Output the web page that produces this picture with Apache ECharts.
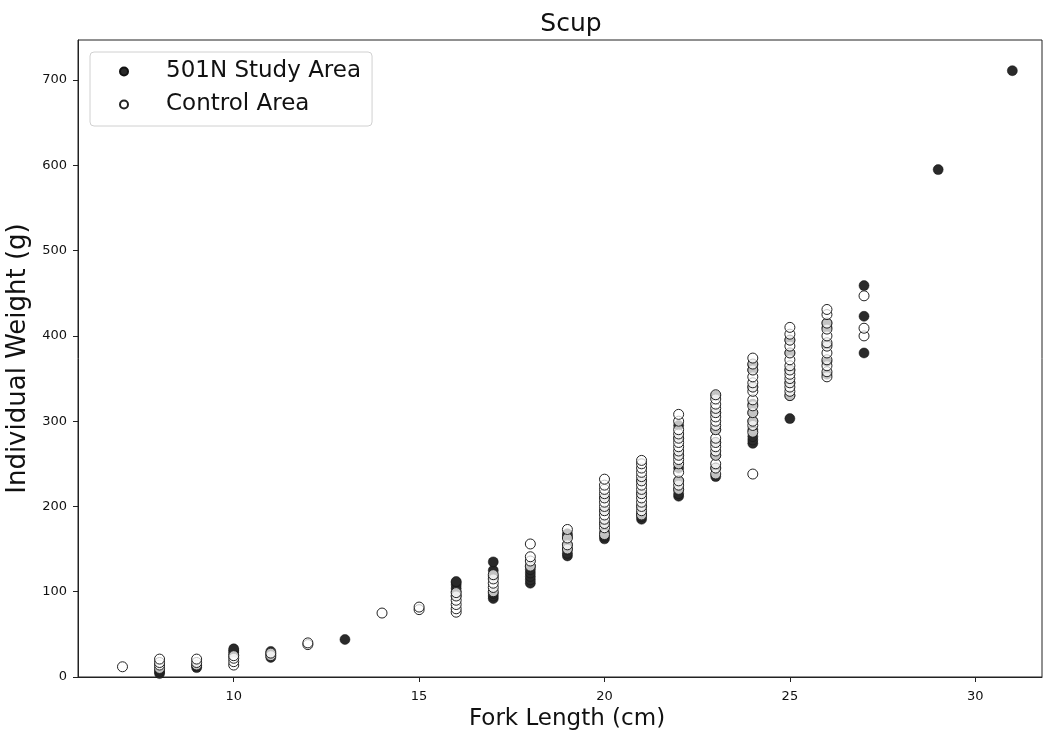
<!DOCTYPE html>
<html>
<head>
<meta charset="utf-8">
<script src="https://cdn.jsdelivr.net/npm/echarts@6/dist/echarts.min.js"></script>
<style>
  html, body { margin: 0; padding: 0; background: #fff; }
  #chart { width: 1043px; height: 732px; }
</style>
</head>
<body>
<div id="chart"></div>
<script>
// Scup: fork length vs individual weight

const xTicks = [10, 15, 20, 25, 30];
const yTicks = [0, 100, 200, 300, 400, 500, 600, 700];

// 501N Study Area [length, weight]
const studyData = [
  [8, 4], [8, 6], [8, 8],
  [9, 11], [9, 13],
  [10, 26], [10, 29], [10, 31], [10, 33],
  [11, 23], [11, 27], [11, 30],
  [13, 44],
  [16, 95], [16, 100], [16, 104], [16, 108], [16, 111], [16, 112],
  [17, 92], [17, 95], [17, 98], [17, 118], [17, 125], [17, 135],
  [18, 110], [18, 114], [18, 118], [18, 122], [18, 126], [18, 130],
  [19, 142], [19, 145], [19, 150], [19, 155], [19, 165], [19, 168],
  [20, 162], [20, 165], [20, 170], [20, 180], [20, 195], [20, 210],
  [21, 185], [21, 188], [21, 192], [21, 200], [21, 215], [21, 230],
  [22, 212], [22, 215], [22, 220], [22, 230], [22, 245], [22, 260], [22, 280], [22, 295],
  [23, 235], [23, 245], [23, 260], [23, 275], [23, 290], [23, 310], [23, 330],
  [24, 274], [24, 278], [24, 282], [24, 290], [24, 300], [24, 310], [24, 320], [24, 340], [24, 360], [24, 366],
  [25, 303], [25, 330], [25, 345], [25, 360], [25, 380], [25, 395],
  [26, 355], [26, 370], [26, 390], [26, 410], [26, 415],
  [27, 380], [27, 423], [27, 459],
  [29, 595],
  [31, 711]
];

// Control Area [length, weight]
const controlData = [
  [7, 12],
  [8, 10], [8, 14], [8, 17], [8, 21],
  [9, 14], [9, 17], [9, 21],
  [10, 14], [10, 18], [10, 22], [10, 25],
  [11, 25], [11, 28],
  [12, 38], [12, 40],
  [14, 75],
  [15, 79], [15, 82],
  [16, 76], [16, 80], [16, 85], [16, 90], [16, 95], [16, 99],
  [17, 100], [17, 105], [17, 110], [17, 115], [17, 120],
  [18, 130], [18, 136], [18, 141], [18, 156],
  [19, 150], [19, 155], [19, 163], [19, 173],
  [20, 167], [20, 175], [20, 180], [20, 185], [20, 190], [20, 195], [20, 200], [20, 205],
  [20, 210], [20, 215], [20, 220], [20, 225], [20, 232],
  [21, 190], [21, 195], [21, 200], [21, 205], [21, 210], [21, 215], [21, 220], [21, 225],
  [21, 230], [21, 235], [21, 240], [21, 245], [21, 250], [21, 254],
  [22, 220], [22, 225], [22, 230], [22, 240], [22, 250], [22, 255], [22, 260], [22, 265],
  [22, 270], [22, 275], [22, 280], [22, 285], [22, 290], [22, 300], [22, 308],
  [23, 238], [23, 245], [23, 250], [23, 260], [23, 265], [23, 270], [23, 275], [23, 280],
  [23, 290], [23, 295], [23, 300], [23, 305], [23, 310], [23, 315], [23, 320], [23, 326], [23, 331],
  [24, 238], [24, 287], [24, 295], [24, 300], [24, 310], [24, 318], [24, 325], [24, 335],
  [24, 340], [24, 345], [24, 352], [24, 360], [24, 367], [24, 374],
  [25, 330], [25, 335], [25, 340], [25, 345], [25, 350], [25, 355], [25, 360], [25, 365],
  [25, 372], [25, 380], [25, 388], [25, 395], [25, 402], [25, 410],
  [26, 352], [26, 358], [26, 365], [26, 372], [26, 380], [26, 388], [26, 392], [26, 400],
  [26, 408], [26, 415], [26, 425], [26, 431],
  [27, 400], [27, 409], [27, 447]
];

const myChart = echarts.init(document.getElementById('chart'));

const font = 'DejaVu Sans';

const option = {
  animation: false,
  title: {
    text: 'Scup',
    left: 566,
    top: 7,
    textAlign: 'center',
    textStyle: { fontFamily: font, fontSize: 25, fontWeight: 'normal', color: '#111' }
  },
  legend: {
    orient: 'vertical',
    left: 90,
    top: 52,
    padding: [8, 11, 10, 29],
    itemGap: 10,
    itemWidth: 8,
    itemHeight: 8,
    borderColor: '#d0d0d0',
    borderWidth: 1,
    borderRadius: 4,
    textStyle: { fontFamily: font, fontSize: 23, color: '#111', padding: [0, 0, 0, 33] },
    data: ['501N Study Area', 'Control Area']
  },
  grid: {
    left: 78,
    right: 1,
    top: 40,
    bottom: 55,
    containLabel: false,
    outerBoundsMode: 'none',
    show: true,
    borderColor: '#222',
    borderWidth: 1
  },
  xAxis: {
    type: 'value',
    min: 5.8,
    max: 31.8,
    name: 'Fork Length (cm)',
    nameLocation: 'middle',
    nameGap: 29,
    nameTextStyle: { fontFamily: font, fontSize: 23, color: '#111', padding: [0, 0, 0, 14] },
    axisLine: { show: true, lineStyle: { color: '#222' } },
    axisTick: { show: true, customValues: xTicks, length: 5, lineStyle: { color: '#222' } },
    axisLabel: { customValues: xTicks, fontFamily: font, fontSize: 13, color: '#111', margin: 13 },
    splitLine: { show: false }
  },
  yAxis: {
    type: 'value',
    min: 0,
    max: 747,
    name: 'Individual Weight (g)',
    nameLocation: 'middle',
    nameGap: 40,
    nameTextStyle: { fontFamily: font, fontSize: 26, color: '#111' },
    axisLine: { show: true, lineStyle: { color: '#222' } },
    axisTick: { show: true, customValues: yTicks, length: 5, lineStyle: { color: '#222' } },
    axisLabel: { customValues: yTicks, fontFamily: font, fontSize: 13, color: '#111', margin: 11 },
    splitLine: { show: false }
  },
  series: [
    {
      name: '501N Study Area',
      type: 'scatter',
      symbol: 'circle',
      symbolSize: 10,
      itemStyle: { color: '#2a2a2a', borderColor: '#111', borderWidth: 0.5, opacity: 1 },
      data: studyData
    },
    {
      name: 'Control Area',
      type: 'scatter',
      symbol: 'circle',
      symbolSize: 10,
      itemStyle: { color: 'rgba(255,255,255,0.72)', borderColor: '#222', borderWidth: 1, opacity: 1 },
      data: controlData
    }
  ]
};

myChart.setOption(option);
</script>
</body>
</html>
